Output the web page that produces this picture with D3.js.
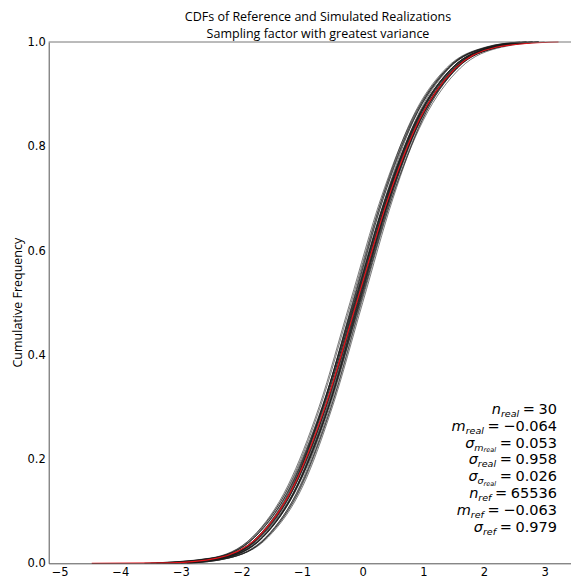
<!DOCTYPE html>
<html>
<head>
<meta charset="utf-8">
<script src="https://cdnjs.cloudflare.com/ajax/libs/d3/7.8.5/d3.min.js"></script>
<style>
  body { margin: 0; background: #fff; }
  text { fill: #000; }
</style>
</head>
<body>
<div id="chart"></div>
<script>
const width = 571;
const height = 580;

// cumulative levels at which the quantiles below are given
const refLevels = [0, 0.001, 0.01, 0.05, 0.15, 0.3, 0.5, 0.7, 0.85, 0.95, 0.99, 0.999, 1];
const refQuantiles = [-4.47, -3.16, -2.40, -1.73, -1.13, -0.62, -0.10, 0.42, 0.93, 1.53, 2.20, 2.96, 3.23];

const realLevels = [0, 0.01, 0.05, 0.15, 0.3, 0.5, 0.7, 0.85, 0.95, 0.99, 1];
const realQuantiles = [
  [-3.3, -2.37, -1.72, -1.14, -0.66, -0.16, 0.34, 0.82, 1.40, 2.05, 2.7],
  [-3.4, -2.38, -1.71, -1.11, -0.60, -0.08, 0.44, 0.95, 1.55, 2.22, 2.9],
  [-3.2, -2.37, -1.71, -1.12, -0.62, -0.11, 0.40, 0.90, 1.49, 2.15, 2.8],
  [-3.0, -2.22, -1.58, -1.00, -0.52, -0.03, 0.46, 0.94, 1.52, 2.16, 2.8],
  [-3.5, -2.47, -1.79, -1.18, -0.66, -0.14, 0.38, 0.90, 1.51, 2.19, 2.9],
  [-3.1, -2.30, -1.65, -1.07, -0.57, -0.07, 0.43, 0.93, 1.51, 2.16, 2.8],
  [-3.4, -2.47, -1.80, -1.21, -0.70, -0.19, 0.32, 0.83, 1.42, 2.09, 2.7],
  [-2.9, -2.21, -1.58, -1.01, -0.54, -0.05, 0.44, 0.91, 1.48, 2.11, 2.7],
  [-3.3, -2.36, -1.70, -1.11, -0.61, -0.10, 0.41, 0.91, 1.50, 2.16, 2.8],
  [-3.6, -2.47, -1.78, -1.17, -0.65, -0.12, 0.41, 0.93, 1.54, 2.23, 2.9],
  [-3.0, -2.25, -1.60, -1.02, -0.52, -0.02, 0.48, 0.98, 1.56, 2.21, 2.9],
  [-3.4, -2.45, -1.78, -1.18, -0.67, -0.15, 0.37, 0.88, 1.48, 2.15, 2.8],
  [-3.2, -2.30, -1.65, -1.07, -0.59, -0.09, 0.41, 0.89, 1.47, 2.12, 2.7],
  [-3.3, -2.41, -1.74, -1.15, -0.64, -0.13, 0.38, 0.89, 1.48, 2.15, 2.8],
  [-3.1, -2.32, -1.66, -1.07, -0.57, -0.06, 0.45, 0.95, 1.54, 2.20, 2.9],
  [-3.2, -2.36, -1.72, -1.14, -0.66, -0.17, 0.32, 0.80, 1.38, 2.02, 2.6],
  [-3.3, -2.37, -1.69, -1.08, -0.56, -0.04, 0.48, 1.00, 1.61, 2.29, 3.0],
  [-3.2, -2.34, -1.69, -1.11, -0.61, -0.11, 0.39, 0.89, 1.47, 2.12, 2.7],
  [-2.9, -2.22, -1.59, -1.03, -0.56, -0.08, 0.40, 0.87, 1.43, 2.06, 2.6],
  [-3.5, -2.49, -1.82, -1.23, -0.72, -0.21, 0.30, 0.81, 1.40, 2.07, 2.7],
  [-3.2, -2.33, -1.67, -1.08, -0.58, -0.07, 0.44, 0.94, 1.53, 2.19, 2.8],
  [-3.6, -2.51, -1.82, -1.20, -0.67, -0.14, 0.39, 0.92, 1.54, 2.23, 2.9],
  [-2.9, -2.21, -1.56, -0.98, -0.50, 0.00, 0.50, 0.98, 1.56, 2.21, 2.9],
  [-3.3, -2.40, -1.73, -1.13, -0.62, -0.10, 0.42, 0.93, 1.53, 2.20, 2.8],
  [-3.3, -2.39, -1.74, -1.16, -0.66, -0.16, 0.34, 0.84, 1.42, 2.07, 2.7],
  [-3.1, -2.31, -1.65, -1.06, -0.56, -0.05, 0.46, 0.96, 1.55, 2.21, 2.9],
  [-3.0, -2.28, -1.65, -1.08, -0.61, -0.12, 0.37, 0.84, 1.41, 2.04, 2.6],
  [-3.4, -2.42, -1.74, -1.13, -0.61, -0.09, 0.43, 0.95, 1.56, 2.24, 2.9],
  [-3.2, -2.39, -1.73, -1.14, -0.64, -0.13, 0.38, 0.88, 1.47, 2.13, 2.7],
  [-3.1, -2.29, -1.64, -1.06, -0.56, -0.06, 0.44, 0.94, 1.52, 2.17, 2.8]
];

const xTicks = [-5, -4, -3, -2, -1, 0, 1, 2, 3];
const yTicks = [0, 0.2, 0.4, 0.6, 0.8, 1.0];

// summary statistics shown in the lower right
const statValues = [30, -0.064, 0.053, 0.958, 0.026, 65536, -0.063, 0.979];
const statSymbols = [
  [["n", 0], ["real", 1]],
  [["m", 0], ["real", 1]],
  [["σ", 0], ["m", 1], ["real", 2]],
  [["σ", 0], ["real", 1]],
  [["σ", 0], ["σ", 1], ["real", 2]],
  [["n", 0], ["ref", 1]],
  [["m", 0], ["ref", 1]],
  [["σ", 0], ["ref", 1]]
];

const svg = d3.select("#chart")
  .append("svg")
  .attr("width", width)
  .attr("height", height);

const x = d3.scaleLinear().domain([-5.18, 3.70]).range([48.7, 587]);
const y = d3.scaleLinear().domain([0, 1]).range([563.3, 42]);

const line = d3.line()
  .x(d => x(d[0]))
  .y(d => y(d[1]))
  .curve(d3.curveMonotoneX);

// simulated realizations
svg.append("g")
  .selectAll("path")
  .data(realQuantiles)
  .enter()
  .append("path")
  .attr("d", row => line(row.map((q, i) => [q, realLevels[i]])))
  .attr("fill", "none")
  .attr("stroke", "#1a1a1a")
  .attr("stroke-opacity", 0.72)
  .attr("stroke-width", 0.8);

// reference distribution
svg.append("path")
  .attr("d", line(refQuantiles.map((q, i) => [q, refLevels[i]])))
  .attr("fill", "none")
  .attr("stroke", "#e8141b")
  .attr("stroke-width", 1.2);

// axes: no tick marks, just labels and spines
const fmtX = d => d < 0 ? "\u2212" + Math.abs(d) : String(d);

const xAxis = svg.append("g")
  .attr("transform", `translate(0,${y(0)})`)
  .call(d3.axisBottom(x).tickValues(xTicks).tickFormat(fmtX).tickSize(0).tickSizeOuter(0).tickPadding(5));

const yAxis = svg.append("g")
  .attr("transform", `translate(${x.range()[0]},0)`)
  .call(d3.axisLeft(y).tickValues(yTicks).tickFormat(d3.format(".1f")).tickSize(0).tickSizeOuter(0).tickPadding(3));

[xAxis, yAxis].forEach(g => {
  g.select(".domain").attr("stroke", "#555").attr("stroke-width", 1);
  g.selectAll("text")
    .attr("font-family", "DejaVu Sans")
    .attr("font-size", 11.5)
    .attr("fill", "#000");
});

svg.append("line")
  .attr("x1", x.range()[0]).attr("x2", x.range()[1])
  .attr("y1", y(1)).attr("y2", y(1))
  .attr("stroke", "#777")
  .attr("stroke-width", 1);

// titles
const title = svg.append("text")
  .attr("text-anchor", "middle")
  .attr("font-family", "Open Sans")
  .attr("font-size", 12.5);
title.append("tspan").attr("x", 318).attr("y", 21).text("CDFs of Reference and Simulated Realizations");
title.append("tspan").attr("x", 318).attr("y", 38).text("Sampling factor with greatest variance");

svg.append("text")
  .attr("transform", `translate(22,${(y(0) + y(1)) / 2}) rotate(-90)`)
  .attr("text-anchor", "middle")
  .attr("font-family", "Open Sans")
  .attr("font-size", 12.5)
  .text("Cumulative Frequency");

// statistics block, one right-aligned line per value
const sizes = [14.5, 9.5, 6.5];
const drops = [0, 3, 4.3];
const fmtStat = v => {
  const s = Number.isInteger(v) ? String(v) : Math.abs(v).toFixed(3);
  return v < 0 ? "\u2005=\u2005\u2212" + s : "\u2005=\u2005" + s;
};

statSymbols.forEach((parts, i) => {
  const t = svg.append("text")
    .attr("x", 557)
    .attr("y", 414 + i * 16.8)
    .attr("text-anchor", "end")
    .attr("font-family", "DejaVu Sans")
    .attr("font-size", sizes[0]);
  let level = 0;
  parts.concat([[fmtStat(statValues[i]), 0, false]]).forEach(([txt, lv, ital]) => {
    t.append("tspan")
      .attr("dy", drops[lv] - drops[level])
      .attr("font-size", sizes[lv])
      .attr("font-style", ital === false ? "normal" : "italic")
      .text(txt);
    level = lv;
  });
});
</script>
</body>
</html>
